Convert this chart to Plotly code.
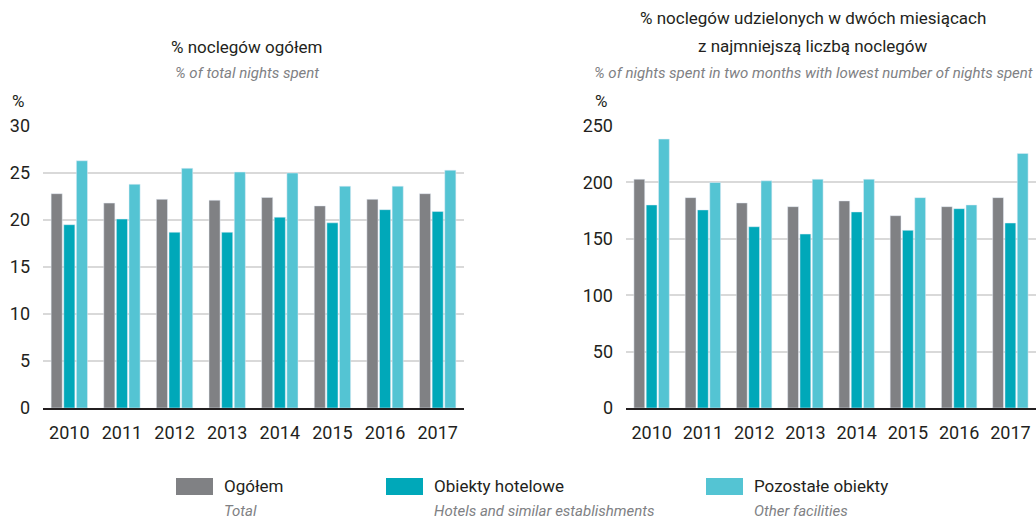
import plotly.graph_objects as go

years = ["2010", "2011", "2012", "2013", "2014", "2015", "2016", "2017"]

# % of total nights spent
total_share = [22.8, 21.8, 22.2, 22.1, 22.4, 21.5, 22.2, 22.8]
hotels_share = [19.5, 20.1, 18.7, 18.7, 20.3, 19.7, 21.1, 20.9]
other_share = [26.3, 23.8, 25.5, 25.1, 25.0, 23.6, 23.6, 25.3]

# % of nights spent in two months with lowest number of nights spent
total_low = [202.8, 186.5, 181.8, 178.5, 183.6, 170.5, 178.5, 186.5]
hotels_low = [180.0, 175.6, 160.7, 154.2, 173.8, 157.5, 176.7, 164.0]
other_low = [238.4, 199.9, 201.4, 202.8, 202.8, 186.5, 180.0, 225.7]

series_pl = ["Ogółem", "Obiekty hotelowe", "Pozostałe obiekty"]
series_en = ["Total", "Hotels and similar establishments", "Other facilities"]
colors = ["#808184", "#00A8B9", "#54C4D3"]

FONT = "Roboto, sans-serif"
W, H = 1036, 521

fig = go.Figure()

left = [total_share, hotels_share, other_share]
right = [total_low, hotels_low, other_low]
for i in range(3):
    fig.add_trace(go.Bar(x=years, y=left[i], name=series_pl[i], marker_color=colors[i],
                         xaxis="x", yaxis="y", showlegend=False))
    fig.add_trace(go.Bar(x=years, y=right[i], name=series_pl[i], marker_color=colors[i],
                         xaxis="x2", yaxis="y2", showlegend=False))

ydom = [1 - 408 / H, 1 - 126 / H]
axis_common = dict(showgrid=False, showline=True, linecolor="#231f20", linewidth=2,
                   ticks="", automargin=False, ticklabelstandoff=7,
                   tickfont=dict(size=18, color="#231f20"), fixedrange=True)
yaxis_common = dict(showgrid=True, gridcolor="#d9d9d9", gridwidth=1.5, zeroline=False,
                    showline=False, ticks="", ticklabelstandoff=12, automargin=False,
                    tickfont=dict(size=18, color="#231f20"), fixedrange=True)

fig.update_layout(
    width=W, height=H,
    margin=dict(l=0, r=0, t=0, b=0, autoexpand=False),
    paper_bgcolor="white", plot_bgcolor="white",
    font=dict(family=FONT, color="#231f20"),
    barmode="group", bargap=0.28, bargroupgap=0.12,
    xaxis=dict(domain=[43 / W, 464 / W], anchor="y", **axis_common),
    xaxis2=dict(domain=[626 / W, 1.0], anchor="y2", **axis_common),
    yaxis=dict(domain=ydom, anchor="x", range=[0, 30], dtick=5, **yaxis_common),
    yaxis2=dict(domain=ydom, anchor="x2", range=[0, 250], dtick=50, **yaxis_common),
)

annotations = [
    dict(text="% noclegów ogółem", x=247 / W, y=1 - 47 / H, font=dict(size=17)),
    dict(text="<i>% of total nights spent</i>", x=247 / W, y=1 - 73 / H,
         font=dict(size=15, color="#808184")),
    dict(text="%", x=18 / W, y=1 - 101 / H, font=dict(size=17)),
    dict(text="% noclegów udzielonych w dwóch miesiącach", x=813 / W, y=1 - 18 / H,
         font=dict(size=17)),
    dict(text="z najmniejszą liczbą noclegów", x=813 / W, y=1 - 46 / H, font=dict(size=17)),
    dict(text="<i>% of nights spent in two months with lowest number of nights spent</i>",
         x=813 / W, y=1 - 73 / H, font=dict(size=15, color="#808184")),
    dict(text="%", x=601 / W, y=1 - 101 / H, font=dict(size=17)),
]
for a in annotations:
    a.update(xref="paper", yref="paper", showarrow=False, xanchor="center", yanchor="middle")

# legend built from shapes and annotations
swatch_x = [176, 386, 706]
shapes = []
for i in range(3):
    x0 = swatch_x[i]
    shapes.append(dict(type="rect", xref="paper", yref="paper",
                       x0=x0 / W, x1=(x0 + 37) / W, y0=1 - 495 / H, y1=1 - 478 / H,
                       fillcolor=colors[i], line=dict(width=0)))
    annotations.append(dict(text=series_pl[i], x=(x0 + 46) / W, y=1 - 486 / H,
                            xref="paper", yref="paper", showarrow=False,
                            xanchor="left", yanchor="middle", font=dict(size=17)))
    annotations.append(dict(text="<i>" + series_en[i] + "</i>", x=(x0 + 46) / W, y=1 - 511 / H,
                            xref="paper", yref="paper", showarrow=False,
                            xanchor="left", yanchor="middle",
                            font=dict(size=15, color="#808184")))

fig.update_layout(annotations=annotations, shapes=shapes)

# drop the default page margin so the figure sits at the window's corner
fig.write_html("out.html", config={"displayModeBar": False},
               post_script="document.body.style.margin='0';")
